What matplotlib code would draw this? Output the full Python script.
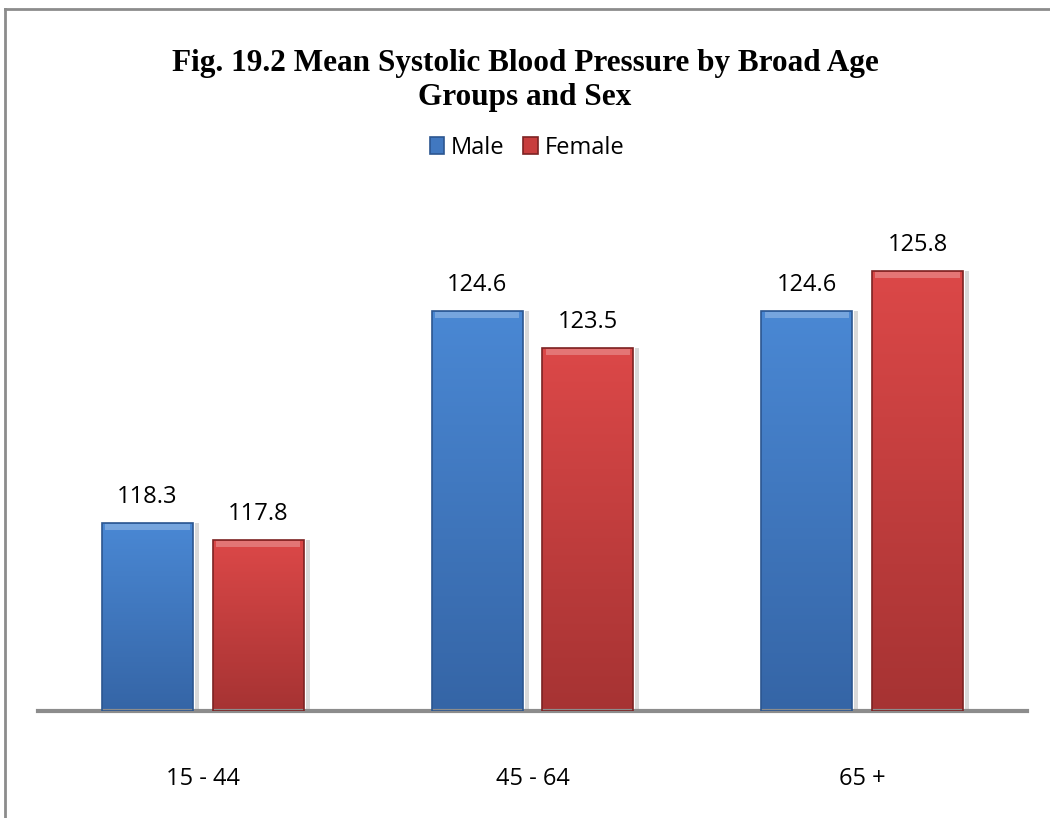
import numpy as np
import matplotlib.pyplot as plt
from matplotlib.colors import LinearSegmentedColormap

categories = ['15 - 44', '45 - 64', '65 +']
male = [118.3, 124.6, 124.6]
female = [117.8, 123.5, 125.8]
series = ['Male', 'Female']

W, H = 1050, 818
fig = plt.figure(figsize=(W / 100, H / 100), dpi=100)

# frame lines of the chart area (top and left only visible)
fig.add_artist(plt.Line2D([5 / W, 1], [1 - 9 / H, 1 - 9 / H], color='#8c8c8c', lw=2))
fig.add_artist(plt.Line2D([5 / W, 5 / W], [0, 1 - 9 / H], color='#8c8c8c', lw=2))

ax = fig.add_axes([38 / W, 107 / H, 989 / W, 491 / H])
ymin = 112.71
ax.set_ylim(ymin, ymin + 491 / 33.65)
ax.set_xlim(-0.5, 2.5)

x = np.arange(len(categories))
w = 0.276
off = 0.168

blue_cm = LinearSegmentedColormap.from_list('b', ['#3565a6', '#4a88d4'])
red_cm = LinearSegmentedColormap.from_list('r', ['#a63333', '#dc4848'])

def draw_series(xs, vals, cmap, edge, name):
    bars = ax.bar(xs, np.array(vals) - ymin, w, bottom=ymin, color='none',
                  edgecolor=edge, linewidth=1.2, label=name, zorder=3)
    grad = np.linspace(0, 1, 256).reshape(-1, 1)
    for b in bars:
        bx, by = b.get_x(), b.get_y()
        bw, bh = b.get_width(), b.get_height()
        # soft shadow on the right
        ax.bar(bx + bw + 0.006, bh, 0.012, bottom=by, align='edge',
               color='#d9d9d9', zorder=1)
        im = ax.imshow(grad, cmap=cmap, aspect='auto', origin='lower',
                       extent=[bx, bx + bw, by, by + bh], zorder=2)
        im.set_clip_path(b)
        # highlight at the top
        ax.bar(bx + 0.01, 0.18, bw - 0.02, bottom=by + bh - 0.22, align='edge',
               color='white', alpha=0.25, zorder=3, linewidth=0)
    return bars

mb = draw_series(x - off, male, blue_cm, '#2c5690', 'Male')
fb = draw_series(x + off, female, red_cm, '#7d2323', 'Female')

for xs, vals in ((x - off, male), (x + off, female)):
    for xi, v in zip(xs, vals):
        ax.text(xi, v + 0.4, f'{v:.1f}', ha='center', va='bottom',
                fontsize=17, family='Open Sans', color='black')

for s in ['top', 'right', 'left']:
    ax.spines[s].set_visible(False)
ax.spines['bottom'].set_color('#8c8c8c')
ax.spines['bottom'].set_linewidth(3)
ax.set_yticks([])
ax.set_xticks(x)
ax.set_xticklabels(categories, fontsize=17, family='Open Sans')
ax.tick_params(axis='x', length=0, pad=40)

fig.text(0.5, 1 - 63 / H, 'Fig. 19.2 Mean Systolic Blood Pressure by Broad Age',
         ha='center', va='center', fontsize=22.5, fontweight='bold',
         family='Liberation Serif')
fig.text(0.5, 1 - 97 / H, 'Groups and Sex', ha='center', va='center',
         fontsize=22.5, fontweight='bold', family='Liberation Serif')

leg = fig.legend(handles=[mb, fb], labels=series, loc='center',
                 bbox_to_anchor=(527 / W, 1 - 148 / H), ncol=2, frameon=False,
                 prop={'family': 'Open Sans', 'size': 17}, handlelength=0.6,
                 handleheight=0.7, handletextpad=0.3, columnspacing=0.8)
for h, c in zip(leg.legend_handles, ['#4178c0', '#c83e3e']):
    h.set_facecolor(c)

fig.savefig('out.png', dpi=100)
